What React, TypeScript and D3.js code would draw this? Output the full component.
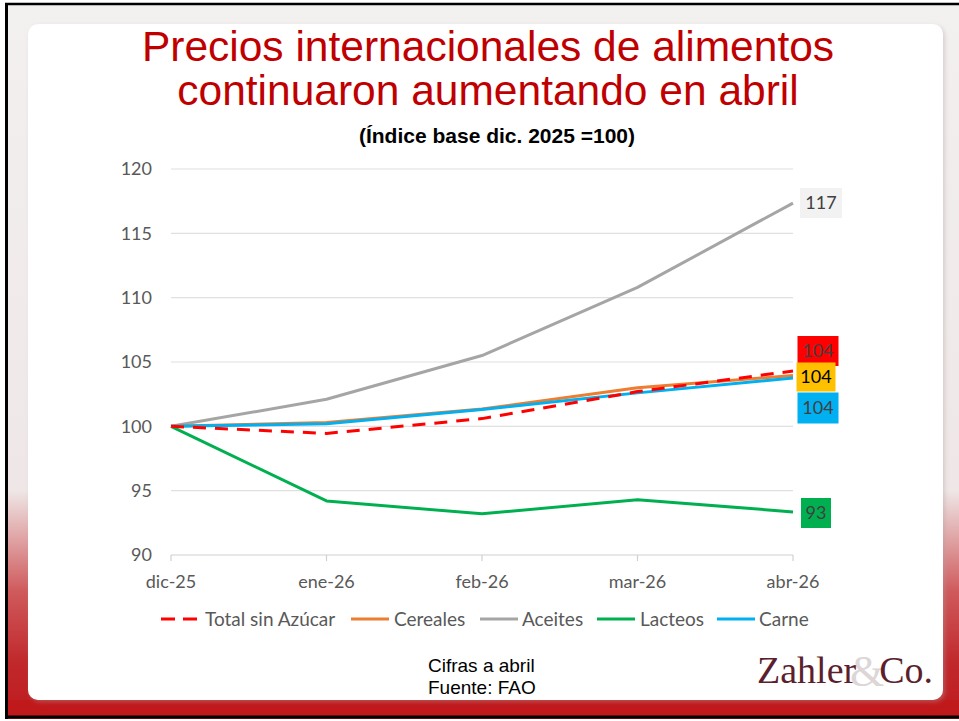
import React from "react";
import * as d3 from "d3";

const categories = ["dic-25", "ene-26", "feb-26", "mar-26", "abr-26"];
const totalSinAzucar = [100, 99.45, 100.6, 102.7, 104.3];
const cereales = [100, 100.3, 101.35, 103.0, 103.95];
const aceites = [100, 102.1, 105.5, 110.8, 117.35];
const lacteos = [100, 94.2, 93.2, 94.3, 93.35];
const carne = [100, 100.2, 101.3, 102.6, 103.75];
const yTicks = [90, 95, 100, 105, 110, 115, 120];

const seriesNames = ["Total sin Azúcar", "Cereales", "Aceites", "Lacteos", "Carne"];
const seriesColors = ["#ff0000", "#ed7d31", "#a5a5a5", "#00b050", "#00b0f0"];
const labelTexts = ["104", "104", "117", "93", "104"];
const labelFill = ["#ff0000", "#ffc000", "#f2f2f2", "#00b050", "#00b0f0"];
const labelTextColor = ["#404040", "#000000", "#404040", "#404040", "#404040"];

const W = 959;
const H = 721;
const FONT = "Lato, 'Open Sans', sans-serif";
const ARIAL = "Arial, 'Liberation Sans', sans-serif";

export default function App() {
  const x = d3.scalePoint<string>().domain(categories).range([171, 793]);
  const y = d3.scaleLinear().domain([90, 120]).range([555, 169]);
  const data = [totalSinAzucar, cereales, aceites, lacteos, carne];
  const line = d3
    .line<number>()
    .x((_, i) => x(categories[i]) as number)
    .y((d) => y(d));

  const order = [2, 3, 1, 4, 0];

  const labelBoxes = [
    { idx: 0, cx: 818, cy: 351, w: 41, h: 30 },
    { idx: 1, cx: 816, cy: 377, w: 39, h: 29 },
    { idx: 4, cx: 818, cy: 408, w: 41, h: 31 },
    { idx: 2, cx: 821, cy: 203, w: 42, h: 30 },
    { idx: 3, cx: 816, cy: 513, w: 30, h: 30 },
  ];

  const legendItems = [
    { idx: 0, lx: 161, tx: 205 },
    { idx: 1, lx: 351, tx: 394 },
    { idx: 2, lx: 480, tx: 522 },
    { idx: 3, lx: 597, tx: 640 },
    { idx: 4, lx: 717, tx: 759 },
  ];

  return (
    <svg
      width={W}
      height={H}
      style={{ position: "absolute", left: 0, top: 0, display: "block" }}
    >
      <defs>
        <linearGradient id="bg" x1="0" y1="0" x2="0" y2="1">
          <stop offset="0" stopColor="#f3f0f0" />
          <stop offset="0.68" stopColor="#efe7e7" />
          <stop offset="0.82" stopColor="#cf5a5c" />
          <stop offset="0.92" stopColor="#c0282b" />
          <stop offset="1" stopColor="#bf1a1d" />
        </linearGradient>
        <filter id="sh" x="-5%" y="-5%" width="110%" height="110%">
          <feGaussianBlur stdDeviation="2" />
        </filter>
      </defs>
      <rect x={0} y={0} width={W} height={H} fill="url(#bg)" />
      <rect x={0} y={700} width={W} height={21} fill="#c0191c" />
      <rect x={0} y={0} width={W} height={3} fill="#ffffff" />
      <rect x={0} y={0} width={5} height={H} fill="#ffffff" />
      <line x1={5} y1={4} x2={W} y2={4} stroke="#000" strokeWidth={2.5} />
      <line x1={6.5} y1={3} x2={6.5} y2={H} stroke="#000" strokeWidth={3} />
      <line x1={5} y1={717} x2={W} y2={717} stroke="#000" strokeWidth={3} />
      <rect x={0} y={719} width={W} height={2} fill="#ffffff" />
      <rect x={30} y={26} width={915} height={676} rx={10} fill="#b0a0a0" opacity={0.4} filter="url(#sh)" />
      <rect x={28} y={24} width={915} height={676} rx={10} fill="#ffffff" />

      <text x={488} y={61} textAnchor="middle" fill="#c00000" fontFamily={ARIAL} fontSize={42.5}>
        Precios internacionales de alimentos
      </text>
      <text x={488} y={105} textAnchor="middle" fill="#c00000" fontFamily={ARIAL} fontSize={42.5}>
        continuaron aumentando en abril
      </text>
      <text x={497} y={143} textAnchor="middle" fill="#000" fontWeight="bold" fontFamily={ARIAL} fontSize={21}>
        (Índice base dic. 2025 =100)
      </text>

      {yTicks.map((t) => (
        <line key={"g" + t} x1={171} x2={793} y1={y(t)} y2={y(t)} stroke={t === 90 ? "#d0d0d0" : "#e0e0e0"} strokeWidth={1.2} />
      ))}
      {categories.map((c) => (
        <line key={"tk" + c} x1={x(c)} x2={x(c)} y1={555} y2={561} stroke="#d0d0d0" strokeWidth={1.2} />
      ))}
      {yTicks.map((t) => (
        <text key={"yl" + t} x={152} y={y(t)} dy="0.35em" textAnchor="end" fill="#595959" fontFamily={FONT} fontSize={18}>
          {t}
        </text>
      ))}
      {categories.map((c) => (
        <text key={"xl" + c} x={x(c)} y={588} textAnchor="middle" fill="#595959" fontFamily={FONT} fontSize={18}>
          {c}
        </text>
      ))}

      {order.map((i) => (
        <path
          key={"l" + i}
          d={line(data[i]) as string}
          fill="none"
          stroke={seriesColors[i]}
          strokeWidth={3}
          strokeDasharray={i === 0 ? "13 9" : undefined}
          strokeLinejoin="round"
        />
      ))}

      {labelBoxes.map((b) => (
        <g key={"lb" + b.idx}>
          <rect x={b.cx - b.w / 2} y={b.cy - b.h / 2} width={b.w} height={b.h} fill={labelFill[b.idx]} />
          <text x={b.cx} y={b.cy} dy="0.36em" textAnchor="middle" fill={labelTextColor[b.idx]} fontFamily={FONT} fontSize={18}>
            {labelTexts[b.idx]}
          </text>
        </g>
      ))}

      {legendItems.map((it) => (
        <g key={"lg" + it.idx}>
          <line
            x1={it.lx}
            x2={it.lx + 38}
            y1={619}
            y2={619}
            stroke={seriesColors[it.idx]}
            strokeWidth={3}
            strokeDasharray={it.idx === 0 ? "14 8" : undefined}
          />
          <text x={it.tx} y={619} dy="0.35em" fill="#595959" fontFamily={FONT} fontSize={19}>
            {seriesNames[it.idx]}
          </text>
        </g>
      ))}

      <text x={428} y={672} fill="#000" fontFamily={ARIAL} fontSize={19}>
        Cifras a abril
      </text>
      <text x={428} y={694} fill="#000" fontFamily={ARIAL} fontSize={19}>
        Fuente: FAO
      </text>
      <text x={850} y={686} fill="#ddd6d6" fontFamily="'Liberation Serif', 'DejaVu Serif', serif" fontSize={44}>
        &amp;
      </text>
      <text x={757} y={683} fill="#5c1f2e" fontFamily="'Liberation Serif', 'DejaVu Serif', serif" fontSize={38}>
        Zahler
      </text>
      <text x={933} y={683} textAnchor="end" fill="#5c1f2e" fontFamily="'Liberation Serif', 'DejaVu Serif', serif" fontSize={38}>
        Co.
      </text>
    </svg>
  );
}
